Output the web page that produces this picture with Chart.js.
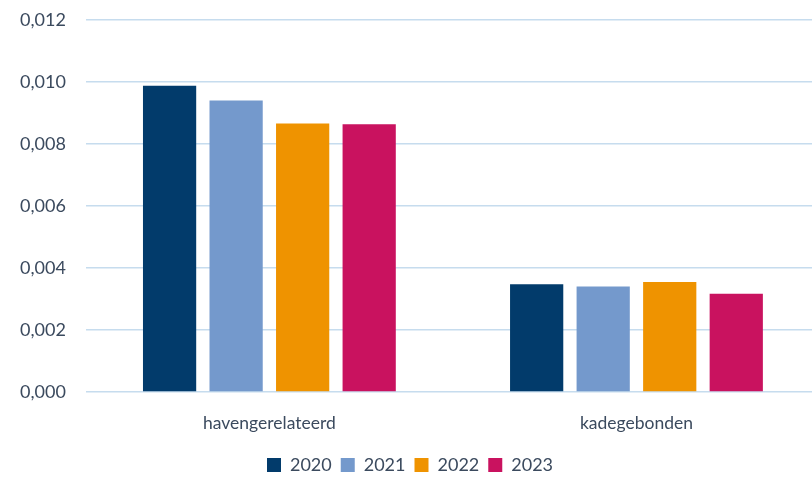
<!DOCTYPE html>
<html>
<head>
<meta charset="utf-8">
<script src="https://cdn.jsdelivr.net/npm/chart.js@4"></script>
<style>
    html, body { margin: 0; padding: 0; background: #fff; overflow: hidden; }
    #wrap { width: 820px; height: 495px; margin-top: -11px; }
</style>
</head>
<body>
<div id="wrap"><canvas id="grafiek"></canvas></div>
<script>
const categorieen = ['havengerelateerd', 'kadegebonden'];
const jaren = ['2020', '2021', '2022', '2023'];
const waarden2020 = [0.00987, 0.00347];
const waarden2021 = [0.00940, 0.00340];
const waarden2022 = [0.00866, 0.00355];
const waarden2023 = [0.00863, 0.00317];
const kleuren = ['#023b6b', '#7499cc', '#ef9300', '#c9125f'];

const tekstKleur = '#3b4a5e';
const lettertype = "Lato, 'Open Sans', sans-serif";

const reeksen = [waarden2020, waarden2021, waarden2022, waarden2023];

new Chart(document.getElementById('grafiek'), {
    type: 'bar',
    data: {
        labels: categorieen,
        datasets: reeksen.map((w, i) => ({
            label: jaren[i],
            data: w,
            backgroundColor: kleuren[i],
            barPercentage: 0.8,
            categoryPercentage: 0.725
        }))
    },
    options: {
        responsive: true,
        maintainAspectRatio: false,
        animation: false,
        layout: { padding: { top: 0, left: 0, right: 0, bottom: 0 } },
        plugins: {
            tooltip: { enabled: false },
            legend: {
                position: 'bottom',
                labels: {
                    boxWidth: 14,
                    boxHeight: 14,
                    padding: 9,
                    color: tekstKleur,
                    font: { family: lettertype, size: 18 }
                }
            }
        },
        scales: {
            x: {
                grid: { display: false },
                border: { display: false },
                ticks: {
                    color: tekstKleur,
                    padding: 13,
                    font: { family: lettertype, size: 17.5 }
                }
            },
            y: {
                min: 0,
                max: 0.012,
                border: { display: false },
                grid: { color: '#c6dcee', lineWidth: 1.5, drawTicks: false },
                ticks: {
                    stepSize: 0.002,
                    padding: 20,
                    color: tekstKleur,
                    font: { family: lettertype, size: 18 },
                    callback: v => v.toFixed(3).replace('.', ',')
                }
            }
        }
    }
});
</script>
</body>
</html>
